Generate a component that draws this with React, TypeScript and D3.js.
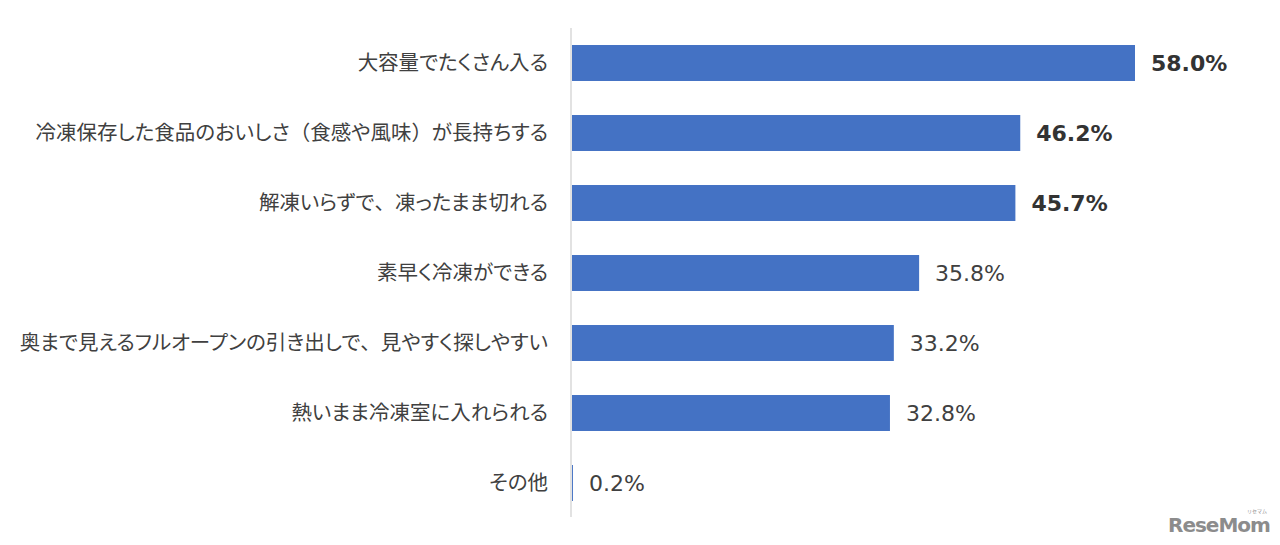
import React, { useRef, useEffect } from 'react';
import * as d3 from 'd3';

// reasons (top to bottom) and share of respondents, %
const categories = [
  '大容量でたくさん入る',
  '冷凍保存した食品のおいしさ（食感や風味）が長持ちする',
  '解凍いらずで、凍ったまま切れる',
  '素早く冷凍ができる',
  '奥まで見えるフルオープンの引き出しで、見やすく探しやすい',
  '熱いまま冷凍室に入れられる',
  'その他',
];
const values = [58.0, 46.2, 45.7, 35.8, 33.2, 32.8, 0.2];
const highlighted = [true, true, true, false, false, false, false];

const App = () => {
  const ref = useRef(null);

  useEffect(() => {
    if (!ref.current) return;
    const width = 1280;
    const height = 545;
    const axisX = 571;

    d3.select(ref.current).select('svg').remove();

    const svg = d3.select(ref.current)
      .append('svg')
      .attr('width', width)
      .attr('height', height)
      .style('display', 'block');

    svg.append('rect').attr('width', width).attr('height', height).attr('fill', '#fff');

    // 58% reaches x=1135
    const x = d3.scaleLinear().domain([0, 58]).range([axisX, 1135]);
    const y = d3.scaleBand()
      .domain(categories)
      .range([28, 518])
      .paddingInner(0.486)
      .paddingOuter(0.243);

    const rows = categories.map((c, i) => ({ c, v: values[i], bold: highlighted[i] }));

    svg.append('g')
      .selectAll('rect')
      .data(rows)
      .join('rect')
      .attr('x', x(0) + 1)
      .attr('y', d => y(d.c))
      .attr('width', d => Math.max(0, x(d.v) - x(0) - 1))
      .attr('height', y.bandwidth())
      .attr('fill', '#4472c4');

    // vertical axis line
    svg.append('line')
      .attr('x1', axisX).attr('x2', axisX)
      .attr('y1', 28).attr('y2', 517)
      .attr('stroke', '#d9d9d9')
      .attr('stroke-width', 1.5);

    // category labels: proportional kana (like Meiryo), full-width punctuation kept wide
    const labels = svg.append('g')
      .selectAll('text')
      .data(rows)
      .join('text')
      .attr('x', 548)
      .attr('y', d => y(d.c) + y.bandwidth() / 2)
      .attr('dy', '0.35em')
      .attr('text-anchor', 'end')
      .attr('font-family', '"Noto Sans CJK JP", sans-serif')
      .attr('font-size', 20.5)
      .attr('fill', '#404040');

    labels.selectAll('tspan')
      .data(d => d.c.split(/([（）、])/).filter(s => s.length))
      .join('tspan')
      .style('font-feature-settings', s => (/^[（）、]$/.test(s) ? 'normal' : '"palt"'))
      .text(s => s);

    // value labels
    svg.append('g')
      .selectAll('text')
      .data(rows)
      .join('text')
      .attr('x', d => x(d.v) + 16)
      .attr('y', d => y(d.c) + y.bandwidth() / 2)
      .attr('dy', '0.36em')
      .attr('font-family', '"DejaVu Sans", sans-serif')
      .attr('font-size', 22)
      .attr('font-weight', d => (d.bold ? 'bold' : 'normal'))
      .attr('fill', d => (d.bold ? '#333' : '#404040'))
      .text(d => `${d.v.toFixed(1)}%`);

    // watermark
    svg.append('text')
      .attr('x', 1168)
      .attr('y', 532)
      .attr('font-family', '"DejaVu Sans", sans-serif')
      .attr('font-size', 20)
      .attr('font-weight', 'bold')
      .attr('letter-spacing', -1)
      .attr('fill', '#8c8c8c')
      .text('ReseMom');
    svg.append('text')
      .attr('x', 1247)
      .attr('y', 513)
      .attr('font-family', '"Noto Sans CJK JP", sans-serif')
      .attr('font-size', 5)
      .attr('fill', '#8c8c8c')
      .text('リセマム');
  }, []);

  return <div ref={ref} style={{ margin: -8 }} />;
};

export default App;
